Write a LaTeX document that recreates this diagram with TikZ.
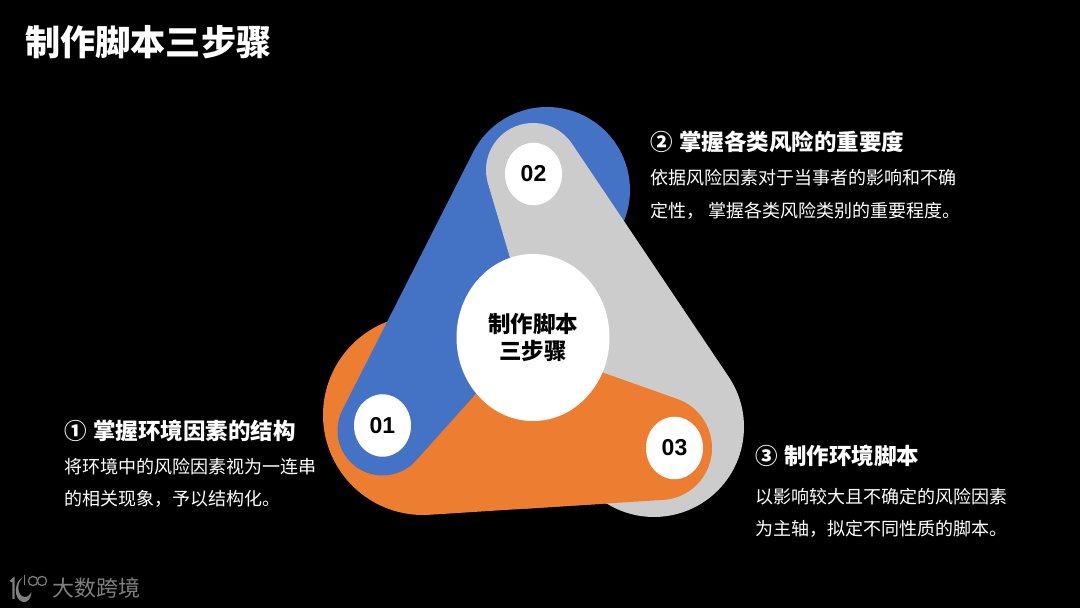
\documentclass[tikz,border=0pt]{standalone}
\usepackage{fontspec}
\usetikzlibrary{shapes.geometric}
\setmainfont{Liberation Sans}
\newfontfamily\cjk{Noto Sans CJK SC}
\definecolor{bluefill}{HTML}{4472C4}
\definecolor{orangefill}{HTML}{ED7D31}
\definecolor{grayfill}{HTML}{CCCCCC}
\definecolor{logogray}{HTML}{7F7F7F}
% filled convex hull of two circles
\newcommand\hullshape[7]{%
  \pgfmathsetmacro\hA{atan2(#6-#3,#5-#2)}%
  \pgfmathsetmacro\hD{veclen(#6-#3,#5-#2)}%
  \pgfmathsetmacro\hB{acos((#4-#7)/\hD)}%
  \pgfmathsetmacro\hP{\hA+\hB}%
  \pgfmathsetmacro\hQ{\hA-\hB}%
  \pgfmathsetmacro\hR{2*\hB}%
  \fill[#1] ({#2+#4*cos(\hP)},{#3+#4*sin(\hP)})
    -- ({#5+#7*cos(\hP)},{#6+#7*sin(\hP)})
    arc[start angle=\hP,delta angle=-\hR,radius=#7]
    -- ({#2+#4*cos(\hQ)},{#3+#4*sin(\hQ)})
    arc[start angle=\hQ,delta angle={\hR-360},radius=#4]
    -- cycle;%
}
\newcommand\headgap{\hspace{6.5pt}}
\tikzset{
  titletext/.style={anchor=west,inner sep=0pt,text=white,font=\cjk\bfseries\fontsize{35.2}{42}\selectfont},
  headtext/.style={anchor=west,inner sep=0pt,text=white,font=\cjk\bfseries\fontsize{22.5}{27}\selectfont},
  bodytext/.style={anchor=west,inner sep=0pt,text=white,font=\cjk\fontsize{18}{22}\selectfont},
  numdot/.style={ellipse,fill=white,inner sep=0pt,minimum width=57pt,minimum height=62.5pt,text=black,font=\bfseries\fontsize{23}{28}\selectfont},
  hubdot/.style={ellipse,fill=white,inner sep=0pt,minimum width=153pt,minimum height=167pt,text=black,align=center,font=\cjk\bfseries\fontsize{22.5}{27}\selectfont},
  logoline/.style={draw=logogray,line width=1.2pt}
}
\begin{document}
\begin{tikzpicture}[x=1pt,y=1pt]
\useasboundingbox (0,0) rectangle (1080,608);
\fill[black] (0,0) rectangle (1080,608);
% orange, blue, gray, then orange again over the gray on the right
\hullshape{orangefill}{423}{193}{100}{660}{160}{52}
\hullshape{bluefill}{547}{418}{83}{382.5}{177.5}{45}
\hullshape{grayfill}{533}{438}{47}{654}{181}{90}
\begin{scope}
\clip (525,0) rectangle (1080,608);
\hullshape{orangefill}{423}{193}{100}{660}{160}{52}
\end{scope}
\node[hubdot] (hub) at (533,270.5) {制作脚本\\[0pt]三步骤};
\node[numdot] (n1) at (382.5,182.5) {01};
\node[numdot] (n2) at (533.5,434) {02};
\node[numdot] (n3) at (674.5,160) {03};
\node[titletext] (title) at (25,566) {制作脚本三步骤};
\node[headtext] (h2) at (650,466) {②\headgap 掌握各类风险的重要度};
\node[bodytext] (b2a) at (650,430) {依据风险因素对于当事者的影响和不确};
\node[bodytext] (b2b) at (650,397) {定性， 掌握各类风险类别的重要程度。};
\node[headtext] (h1) at (64,177) {①\headgap 掌握环境因素的结构};
\node[bodytext] (b1a) at (64,141) {将环境中的风险因素视为一连串};
\node[bodytext] (b1b) at (64,109) {的相关现象，予以结构化。};
\node[headtext] (h3) at (755,152) {③\headgap 制作环境脚本};
\node[bodytext] (b3a) at (755,111) {以影响较大且不确定的风险因素};
\node[bodytext] (b3b) at (755,79) {为主轴，拟定不同性质的脚本。};
% logo
\draw[logoline,line width=2.4pt] (10.5,26.5) -- (13.5,29) -- (13.5,9);
\fill[logogray] (23,30.5) .. controls (14,28) and (13,8) .. (23,6)
  .. controls (28,5) and (31,10) .. (31.5,16)
  .. controls (29,11) and (25,10) .. (22,12)
  .. controls (17,15) and (17,26) .. (23,30.5) -- cycle;
\draw[logoline] (24.5,23) -- (24.5,33);
\draw[logoline] (33,27) circle[radius=4.6];
\draw[logoline] (42,27) circle[radius=4.6];
\node[anchor=west,inner sep=0pt,text=logogray,font=\cjk\fontsize{22}{26}\selectfont] (brand) at (52,20) {大数跨境};
\end{tikzpicture}
\end{document}
